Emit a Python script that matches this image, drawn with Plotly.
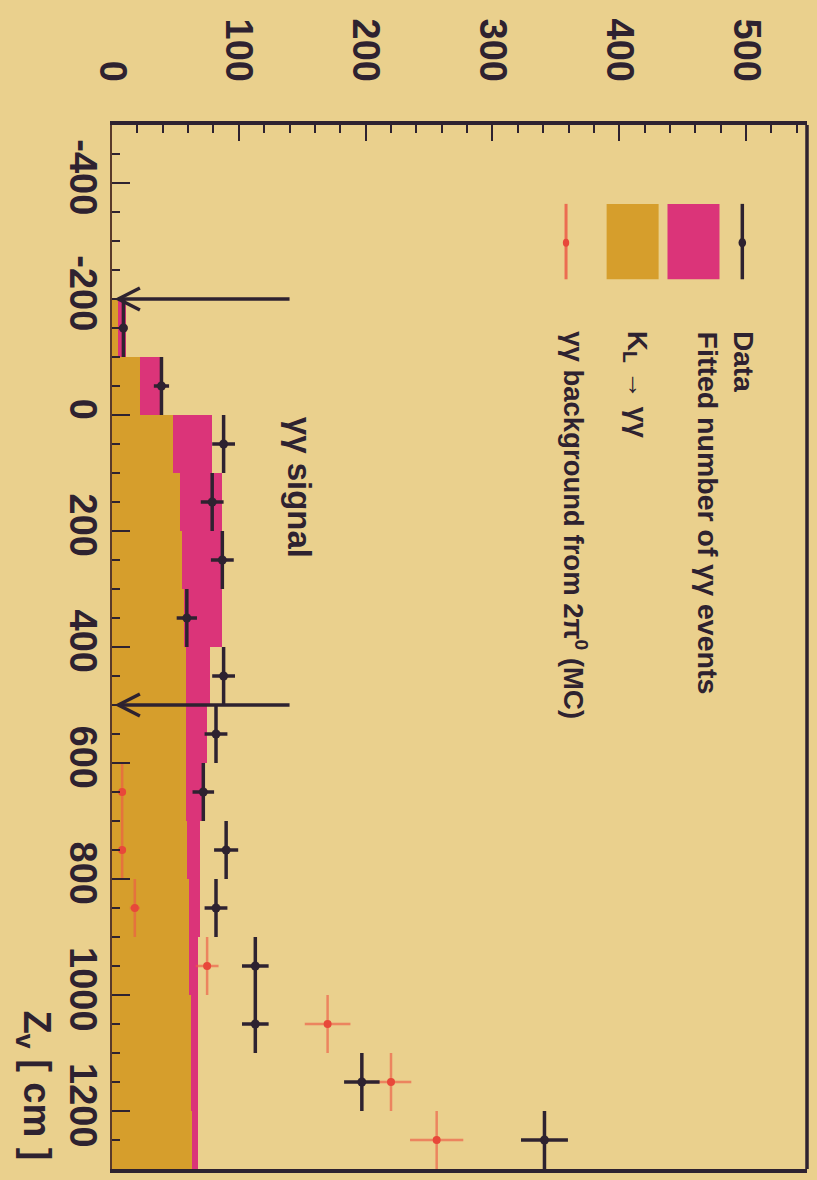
import plotly.graph_objects as go

# Reconstructed vertex position Z_v of K_L -> gamma gamma candidates, 100 cm bins
z_centers = [-150, -50, 50, 150, 250, 350, 450, 550, 650, 750, 850, 950, 1050, 1150, 1250]
bin_width = 100

# Data: event counts and their statistical errors
data_counts = [9, 39, 88, 79, 87, 59, 88, 82, 72, 90, 82, 113, 113, 197, 341]
data_errors = [3, 6, 9, 9, 9, 8, 9, 9, 8.5, 9.5, 9, 10.5, 10.5, 14, 18.5]

# Stacked histogram: fitted number of gamma gamma events (total) and K_L -> gamma gamma part
fit_total = [11, 40, 79, 87, 87, 87, 77, 75, 71, 69, 69, 68, 68, 68, 68]
kl_gg = [5, 22, 48, 54, 55, 57, 58, 58, 58, 59, 61, 61, 62, 62, 63]

# gamma gamma background from 2 pi0 (MC)
mc_z = [650, 750, 850, 950, 1050, 1150, 1250]
mc_counts = [8, 8, 18, 75, 170, 220, 256]
mc_errors = [3, 3, 4, 9, 18, 16, 21]

# Signal window boundaries in Z_v
signal_window = [-200, 500]

# Z_v axis tick labels
z_tick_vals = [-400, -200, 0, 200, 400, 600, 800, 1000, 1200]
z_tick_text = ["-400", "-200", "0", "200", "400", "600", "800", "1000", "1200"]

BG = "#EAD08D"
DARK = "#2E2230"
PINK = "#DB3479"
ORANGE = "#D69E2C"
RED = "#E8483A"
FONT = "Liberation Sans"

fig = go.Figure()

fig.add_trace(go.Bar(
    x=fit_total, y=z_centers, orientation="h", width=bin_width,
    marker=dict(color=PINK, line=dict(width=0)), showlegend=False,
))
fig.add_trace(go.Bar(
    x=kl_gg, y=z_centers, orientation="h", width=bin_width,
    marker=dict(color=ORANGE, line=dict(width=0)), showlegend=False,
))

fig.add_trace(go.Scatter(
    x=mc_counts, y=mc_z, mode="markers",
    marker=dict(color=RED, size=8),
    error_x=dict(type="data", array=mc_errors, color="rgba(236,90,70,0.65)",
                 thickness=2.5, width=0),
    error_y=dict(type="constant", value=bin_width / 2, color="rgba(236,90,70,0.65)",
                 thickness=2.5, width=0),
    showlegend=False,
))

fig.add_trace(go.Scatter(
    x=data_counts, y=z_centers, mode="markers",
    marker=dict(color=DARK, size=9),
    error_x=dict(type="data", array=data_errors, color=DARK, thickness=3.5, width=0),
    error_y=dict(type="constant", value=bin_width / 2, color=DARK, thickness=3.5, width=0),
    showlegend=False,
))

shapes = []
annotations = []

# Arrows marking the signal window
arrow_len = 140
for z in signal_window:
    shapes.append(dict(type="line", xref="x", yref="y", x0=arrow_len, x1=5, y0=z, y1=z,
                       line=dict(color=DARK, width=3.5)))
    shapes.append(dict(type="path", xref="x", yref="y",
                       path=f"M 22,{z - 19} L 5,{z} L 22,{z + 19}",
                       line=dict(color=DARK, width=3.5)))

annotations.append(dict(
    x=148, y=0, xref="x", yref="y", xanchor="center", yanchor="top",
    text="γγ signal", textangle=90, showarrow=False,
    font=dict(family=FONT, size=33, color=DARK, weight="bold"),
))

# Legend block (rotated)
leg_top, leg_bot, leg_mid = -364, -234, -297
shapes.append(dict(type="rect", xref="x", yref="y", x0=438, x1=479, y0=leg_top, y1=leg_bot,
                   fillcolor=PINK, line=dict(width=0)))
shapes.append(dict(type="rect", xref="x", yref="y", x0=390, x1=431, y0=leg_top, y1=leg_bot,
                   fillcolor=ORANGE, line=dict(width=0)))
shapes.append(dict(type="line", xref="x", yref="y", x0=497, x1=497, y0=leg_top, y1=leg_bot,
                   line=dict(color=DARK, width=3.5)))
shapes.append(dict(type="circle", xref="x", yref="y", x0=494, x1=500,
                   y0=leg_mid - 8, y1=leg_mid + 8, fillcolor=DARK, line=dict(width=0)))
shapes.append(dict(type="line", xref="x", yref="y", x0=358, x1=358, y0=leg_top, y1=leg_bot,
                   line=dict(color="rgba(236,90,70,0.85)", width=3)))
shapes.append(dict(type="circle", xref="x", yref="y", x0=355.5, x1=360.5,
                   y0=leg_mid - 7, y1=leg_mid + 7, fillcolor=RED, line=dict(width=0)))

legend_texts = [
    (498, "Data", 28),
    (470, "Fitted number of γγ events", 28.5),
    (413, "K<sub>L</sub> → γγ", 28),
    (365, "γγ background from 2π<sup>0</sup> (MC)", 27.5),
]
for xpos, txt, fsize in legend_texts:
    annotations.append(dict(
        x=xpos, y=-148, xref="x", yref="y", xanchor="center", yanchor="top",
        text=txt, textangle=90, showarrow=False,
        font=dict(family=FONT, size=fsize, color=DARK, weight="bold"),
    ))

# Axis title for Z_v
annotations.append(dict(
    x=-0.112, y=0.006, xref="paper", yref="paper", xanchor="center", yanchor="bottom",
    text="Z<sub>v</sub>\u00a0[\u00a0cm\u00a0]", textangle=90, showarrow=False,
    font=dict(family=FONT, size=38, color=DARK, weight="bold"),
))

# Right edge of the frame
shapes.append(dict(type="line", xref="paper", yref="paper", x0=1, x1=1, y0=0, y1=1,
                   line=dict(color=DARK, width=3.5)))

tick_font = dict(family=FONT, size=38, color=DARK, weight="bold")

fig.update_layout(
    width=817, height=1180,
    margin=dict(l=112, r=10, t=125, b=7, pad=0),
    paper_bgcolor=BG, plot_bgcolor=BG,
    barmode="overlay", bargap=0,
    shapes=shapes, annotations=annotations,
    xaxis=dict(
        side="top", range=[0, 548], tick0=0, dtick=100, tickangle=90,
        ticks="inside", ticklen=16, tickwidth=2, tickcolor=DARK,
        minor=dict(dtick=20, ticks="inside", ticklen=8, tickwidth=1.5, tickcolor=DARK),
        showline=True, linewidth=3.5, linecolor=DARK, mirror=True,
        showgrid=False, zeroline=False, tickfont=tick_font, ticklabelstandoff=26,
    ),
    yaxis=dict(
        range=[1300, -500], tickmode="array", tickvals=z_tick_vals, ticktext=z_tick_text,
        tickangle=90,
        ticks="inside", ticklen=18, tickwidth=2, tickcolor=DARK,
        minor=dict(tick0=0, dtick=50, ticks="inside", ticklen=8, tickwidth=1.5, tickcolor=DARK),
        showline=True, linewidth=2, linecolor="#5A3A2A",
        showgrid=False, zeroline=False, tickfont=tick_font, ticklabelstandoff=-6,
    ),
)

fig.write_html("out.html")
